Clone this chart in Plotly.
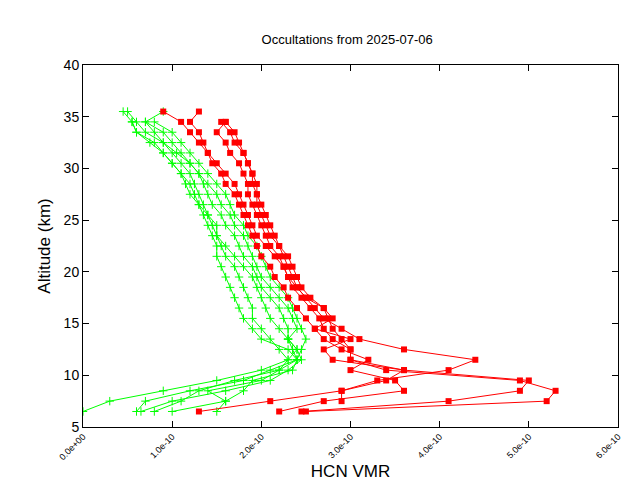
import plotly.graph_objects as go

alt = [6.5 + i for i in range(30)]

# VMR values in units of 1e-10, listed from 6.5 km upward
red_profiles = [
    [1.3, 2.1, 2.9, 3.3, 4.1, 4.4, 3.6, 3.1, 2.9, 2.7, 2.6, 2.5, 2.4, 2.3, 2.25, 2.15, 2.05, 1.95, 1.9, 1.85, 1.8, 1.75, 1.7, 1.6, 1.5, 1.4, 1.3, 1.2, 1.1, 0.9],
    [2.2, 2.7, 3.6, 3.5, 3.0, 3.2, 2.9, 2.7, 2.6, 2.5, 2.4, 2.3, 2.25, 2.15, 2.1, 2.0, 1.95, 1.9, 1.85, 1.8, 1.75, 1.7, 1.6, 1.55, 1.45, 1.4, 1.35, 1.3, 1.2, 1.3],
    [2.45, 4.1, 4.9, 5.0, 3.6, 3.0, 3.0, 2.8, 2.7, 2.65, 2.55, 2.45, 2.35, 2.3, 2.25, 2.2, 2.1, 2.05, 2.0, 1.95, 1.9, 1.85, 1.85, 1.8, 1.75, 1.65, 1.6, 1.5, 1.6, None],
    [2.5, 5.2, 5.3, 4.9, 3.4, 3.0, 3.0, 2.9, 2.8, 2.75, 2.7, 2.55, 2.45, 2.4, 2.35, 2.3, 2.2, 2.15, 2.1, 2.05, 2.0, 1.95, 1.95, 1.9, 1.85, 1.8, 1.7, 1.65, 1.55, None],
    [None, 2.9, 2.9, 3.4, 3.6, 2.8, 2.7, 3.0, 2.6, 2.8, 2.7, 2.5, 2.4, 2.35, 2.3, 2.25, 2.2, 2.1, 2.05, 2.0, 1.95, 1.95, 1.9, 1.9, 1.85, 1.8, 1.75, 1.7, 1.6, None],
]

green_profiles = [
    [0.0, 0.3, 0.9, 1.5, 2.0, 2.3, 2.4, 2.3, 2.2, 2.1, 2.05, 2.0, 1.95, 1.9, 1.8, 1.7, 1.6, 1.5, 1.45, 1.4, 1.3, 1.25, 1.2, 1.1, 1.0, 0.9, 0.75, 0.6, 0.55, 0.45],
    [0.6, 0.7, 1.2, 1.8, 2.1, 2.4, 2.35, 2.3, 2.3, 2.25, 2.2, 2.1, 2.0, 1.95, 1.9, 1.8, 1.75, 1.7, 1.6, 1.55, 1.45, 1.4, 1.35, 1.3, 1.2, 1.05, 0.9, 0.8, 0.7, 0.9],
    [0.65, 1.0, 1.6, 2.1, 2.3, 2.45, 2.4, 2.3, 2.4, 2.35, 2.3, 2.2, 2.1, 2.0, 1.95, 1.9, 1.85, 1.8, 1.7, 1.65, 1.55, 1.5, 1.4, 1.3, 1.2, 1.1, 1.0, 0.9, 0.7, None],
    [1.0, 1.6, 1.8, 1.9, 2.35, 2.4, 2.3, 2.0, 1.9, 1.8, 1.75, 1.7, 1.65, 1.6, 1.55, 1.5, 1.5, 1.45, 1.4, 1.35, 1.3, 1.2, 1.15, 1.1, 1.0, 0.9, 0.8, 0.6, 0.55, None],
    [1.5, 1.6, 1.4, 2.0, 2.2, 2.4, 2.45, 2.5, 2.45, 2.4, 2.35, 2.3, 2.2, 2.1, 2.05, 2.0, 1.95, 1.85, 1.8, 1.7, 1.65, 1.6, 1.5, 1.4, 1.3, 1.2, 1.1, 1.0, 0.8, None],
    [0.8, 1.1, 1.3, 1.7, 2.2, 2.3, 2.2, 2.1, 2.0, 1.9, 1.9, 1.85, 1.8, 1.75, 1.7, 1.6, 1.55, 1.5, 1.5, 1.4, 1.35, 1.3, 1.25, 1.2, 1.1, 1.0, 0.9, 0.7, 0.6, 0.5],
]

x_ticks = [0, 1e-10, 2e-10, 3e-10, 4e-10, 5e-10, 6e-10]
x_labels = ["0.0e+00", "1.0e-10", "2.0e-10", "3.0e-10", "4.0e-10", "5.0e-10", "6.0e-10"]

fig = go.Figure()

for prof in green_profiles:
    fig.add_trace(go.Scatter(
        x=[v * 1e-10 if v is not None else None for v in prof], y=alt,
        mode="lines+markers",
        line=dict(color="#00ff00", width=1),
        marker=dict(symbol="cross-thin-open", size=6, line=dict(color="#00ff00", width=1)),
    ))

for prof in red_profiles:
    fig.add_trace(go.Scatter(
        x=[v * 1e-10 if v is not None else None for v in prof], y=alt,
        mode="lines+markers",
        line=dict(color="#ff0000", width=1),
        marker=dict(symbol="square", size=6, color="#ff0000"),
    ))

axis_common = dict(showgrid=False, zeroline=False, showline=True, linecolor="black",
                   mirror="ticks", ticks="inside", ticklen=6, tickcolor="black",
                   automargin=False)

fig.update_layout(
    width=640, height=480,
    paper_bgcolor="white", plot_bgcolor="white",
    showlegend=False,
    font=dict(family="Liberation Sans, Arial", size=14, color="black"),
    title=dict(text="Occultations from 2025-07-06", x=0.53, y=0.945, font=dict(size=13)),
    margin=dict(l=75, r=30, t=57, b=61, autoexpand=False),
    xaxis=dict(axis_common, range=[0, 6e-10], tickvals=x_ticks, ticktext=x_labels,
               tickangle=-45, tickfont=dict(size=9), title=dict(text="HCN VMR", standoff=4)),
    yaxis=dict(axis_common, range=[5, 40], dtick=5, title=dict(text="Altitude (km)", standoff=8)),
)

fig.write_html("out.html")
